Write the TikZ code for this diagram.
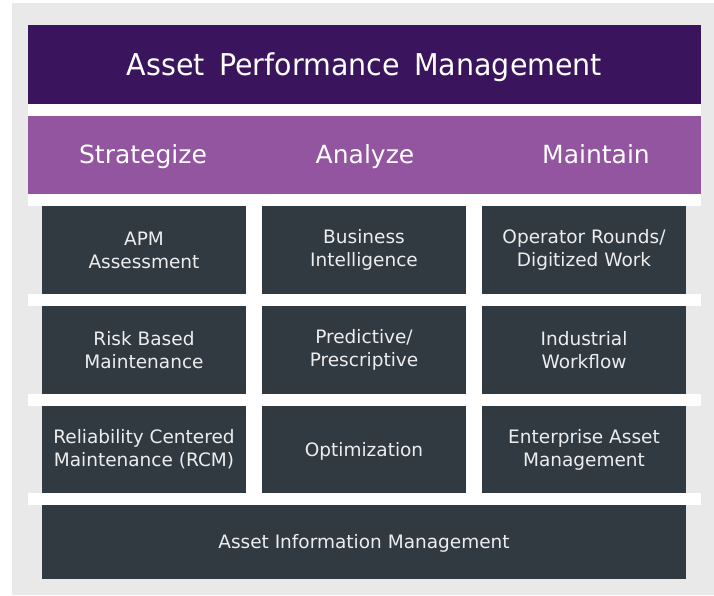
\documentclass[tikz,border=0pt]{standalone}
\usepackage{fontspec}
\setmainfont{DejaVu Sans}
\newfontfamily\titlefont[FakeStretch=0.95,WordSpace=1.6]{DejaVu Sans}
\definecolor{apmback}{HTML}{E9E9E9}
\definecolor{apmdark}{HTML}{3A145D}
\definecolor{apmlight}{HTML}{9354A0}
\definecolor{tiledark}{HTML}{313A41}
\definecolor{tiletext}{HTML}{EDEDED}

\begin{document}
\begin{tikzpicture}[x=1pt,y=1pt,yscale=-1,
  tile/.style={fill=tiledark,text=tiletext,minimum width=204pt,minimum height=88pt,
    inner sep=0pt,outer sep=0pt,align=center,font=\fontsize{18.5}{23}\selectfont},
  oneline/.style={text height=13.5pt,text depth=0pt},
  head/.style={text=white,inner sep=0pt,anchor=base,font=\fontsize{25}{30}\selectfont},
  bar/.style={minimum width=673pt,inner sep=0pt,outer sep=0pt},
  strip/.style={fill=white}]
\useasboundingbox (0,0) rectangle (714,595);

%Shape: Rectangle [background]
\fill[apmback] (12,3) rectangle (714,595);
\fill[white] (42,194) rectangle (686,505);
%Shape: white strips
\foreach \ya/\yb in {104/116,194/206,294/306,394/406,493/505}
  \fill[strip] (28,\ya) rectangle (701,\yb);

% Title bar
\node[bar,fill=apmdark,minimum height=79pt] (titlebar) at (364.5,64.5) {};
\node[text=white,inner sep=0pt,anchor=base,
  font=\titlefont\fontsize{30}{36}\selectfont] (title) at (364.5,75) {Asset Performance Management};
% Phase bar
\node[bar,fill=apmlight,minimum height=78pt] (phasebar) at (364.5,155) {};
\node[head] (strategize) at (143,163.5) {Strategize};
\node[head] (analyze) at (365,163.5) {Analyze};
\node[head] (maintain) at (596,163.5) {Maintain};

% Tiles, row 1
\node[tile] (apm) at (144,250) {APM\\Assessment};
\node[tile] (bi) at (364,250) {Business\\Intelligence};
\node[tile] (rounds) at (584,250) {Operator Rounds/\\Digitized Work};
% Tiles, row 2
\node[tile] (rbm) at (144,350) {Risk Based\\Maintenance};
\node[tile] (pred) at (364,350) {Predictive/\\Prescriptive};
\node[tile] (workflow) at (584,350) {Industrial\\Workflow};
% Tiles, row 3
\node[tile,minimum height=87pt] (rcm) at (144,449.5) {Reliability Centered\\Maintenance (RCM)};
\node[tile,oneline,minimum height=87pt] (optim) at (364,449.5) {Optimization};
\node[tile,minimum height=87pt] (eam) at (584,449.5) {Enterprise Asset\\Management};

% Foundation
\node[tile,oneline,minimum width=644pt,minimum height=74pt] (aim) at (364,542) {Asset Information Management};
\end{tikzpicture}
\end{document}
